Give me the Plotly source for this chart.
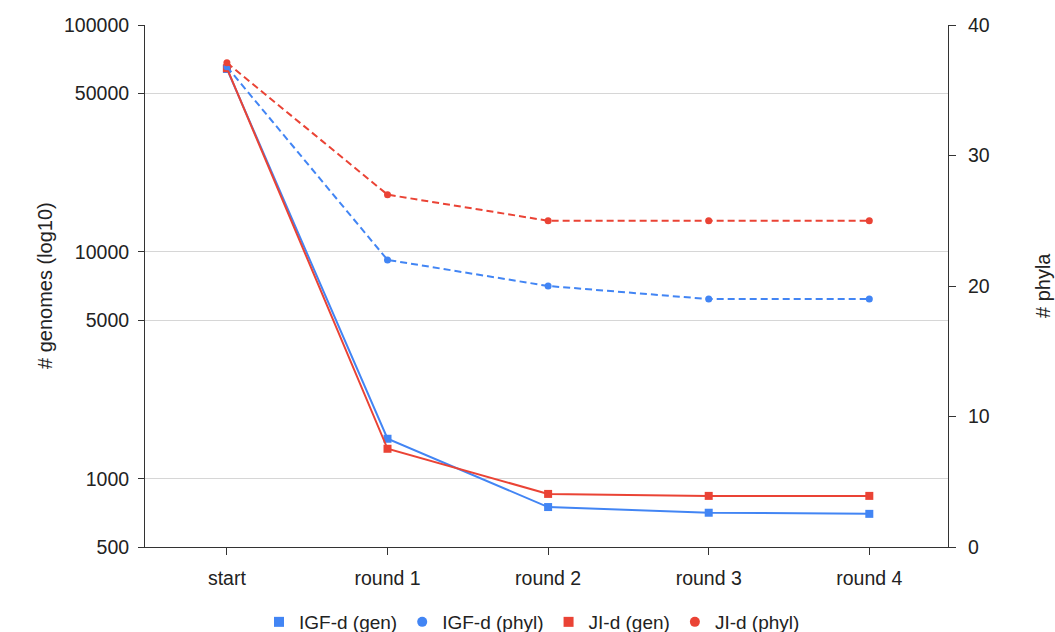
import plotly.graph_objects as go
import math

categories = ["start", "round 1", "round 2", "round 3", "round 4"]
igf_gen = [64000, 1500, 750, 708, 700]
ji_gen = [64500, 1355, 857, 840, 840]
igf_phyl = [36.8, 22, 20, 19, 19]
ji_phyl = [37.1, 27, 25, 25, 25]

left_ticks = [500, 1000, 5000, 10000, 50000, 100000]
right_ticks = [0, 10, 20, 30, 40]

BLUE = "#4285F4"
RED = "#EA4335"
FONT = "Liberation Sans, Arial, sans-serif"
TICK_FONT = 19.5

fig = go.Figure()
fig.add_trace(go.Scatter(x=categories, y=igf_gen, mode="lines+markers", name="IGF-d (gen)",
                         line=dict(color=BLUE, width=2), marker=dict(symbol="square", size=8, color=BLUE),
                         showlegend=False, yaxis="y"))
fig.add_trace(go.Scatter(x=categories, y=igf_phyl, mode="lines+markers", name="IGF-d (phyl)",
                         line=dict(color=BLUE, width=2, dash="7px,4px"), marker=dict(symbol="circle", size=7, color=BLUE),
                         showlegend=False, yaxis="y2"))
fig.add_trace(go.Scatter(x=categories, y=ji_gen, mode="lines+markers", name="JI-d (gen)",
                         line=dict(color=RED, width=2), marker=dict(symbol="square", size=8, color=RED),
                         showlegend=False, yaxis="y"))
fig.add_trace(go.Scatter(x=categories, y=ji_phyl, mode="lines+markers", name="JI-d (phyl)",
                         line=dict(color=RED, width=2, dash="7px,4px"), marker=dict(symbol="circle", size=7, color=RED),
                         showlegend=False, yaxis="y2"))

# legend-only entries (markers only, as in the reference)
for name, col, sym in [("IGF-d (gen)", BLUE, "square"), ("IGF-d (phyl)", BLUE, "circle"),
                       ("JI-d (gen)", RED, "square"), ("JI-d (phyl)", RED, "circle")]:
    fig.add_trace(go.Scatter(x=[None], y=[None], mode="markers", name=name,
                             marker=dict(symbol=sym, size=10, color=col), yaxis="y"))

plot_w = 1055 - 145 - 107

fig.update_layout(
    width=1055, height=632,
    margin=dict(l=145, r=107, t=25, b=85, autoexpand=False),
    paper_bgcolor="white", plot_bgcolor="white",
    font=dict(family=FONT, size=TICK_FONT, color="#222222"),
    xaxis=dict(range=[-0.51, 4.49], showgrid=False, showline=True, linecolor="#333333", linewidth=1,
               ticks="outside", ticklen=7, tickcolor="#333333", ticklabelstandoff=7,
               tickfont=dict(size=TICK_FONT)),
    yaxis=dict(type="log", range=[math.log10(500), 5], tickvals=left_ticks,
               ticktext=[str(v) for v in left_ticks], showgrid=True, gridcolor="#d6d6d6",
               showline=True, linecolor="#333333", linewidth=1, ticks="outside", ticklen=6,
               tickcolor="#333333", zeroline=False, tickfont=dict(size=TICK_FONT), ticklabelstandoff=5),
    yaxis2=dict(overlaying="y", side="right", range=[0, 40], tickvals=right_ticks, showgrid=False,
                showline=True, linecolor="#333333", linewidth=1, ticks="outside", ticklen=7,
                tickcolor="#333333", zeroline=False, tickfont=dict(size=TICK_FONT), ticklabelstandoff=8),
    legend=dict(orientation="h", x=(532 - 145) / plot_w, xanchor="center", y=(547 - 622) / 522,
                yanchor="middle", font=dict(size=19), itemwidth=30, traceorder="normal"),
    annotations=[
        dict(text="# genomes (log10)", x=(45 - 145) / plot_w, y=0.5, xref="paper", yref="paper",
             showarrow=False, textangle=-90, font=dict(size=20), xanchor="center", yanchor="middle"),
        dict(text="# phyla", x=(1043 - 145) / plot_w, y=0.5, xref="paper", yref="paper",
             showarrow=False, textangle=-90, font=dict(size=20), xanchor="center", yanchor="middle"),
    ],
)

fig.write_html("out.html", config={"displayModeBar": False},
               post_script="document.body.style.margin='0';")
